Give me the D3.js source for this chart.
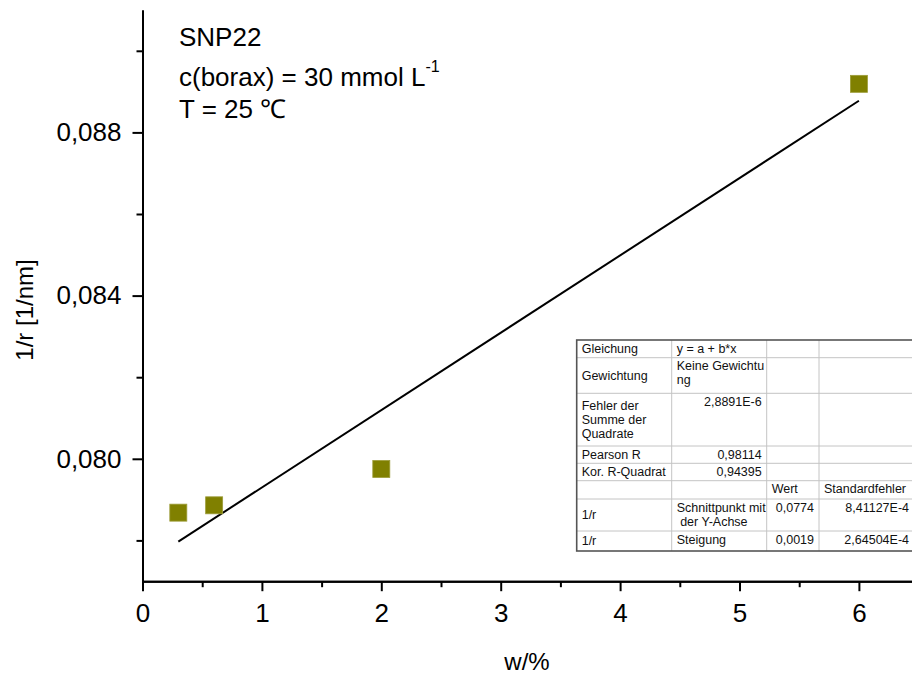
<!DOCTYPE html>
<html>
<head>
<meta charset="utf-8">
<script src="https://cdn.jsdelivr.net/npm/d3@7"></script>
<style>
  body { margin: 0; background: #fff; }
  svg { display: block; font-family: "Liberation Sans", Arial, sans-serif; }
  .axis path, .axis line { stroke: #000; stroke-width: 2; }
  .axis text { fill: #000; font-size: 26px; font-family: "Liberation Sans", Arial, sans-serif; }
</style>
</head>
<body>
<svg id="chart" width="912" height="678"></svg>
<script>
// measured points
const wPercent = [0.3, 0.6, 2, 6];
const invRadius = [0.07868, 0.07886, 0.07975, 0.08919];

const xMajorTicks = [0, 1, 2, 3, 4, 5, 6];
const xMinorTicks = [0.5, 1.5, 2.5, 3.5, 4.5, 5.5];
const yMajorTicks = [0.080, 0.084, 0.088];
const yMinorTicks = [0.078, 0.082, 0.086, 0.090];

const xTitle = 'w/%';
const yTitle = '1/r [1/nm]';
const sampleName = 'SNP22';
const boraxText = ['c(borax) = 30 mmol L', '-1'];
const tempText = 'T = 25 \u2103';

// Origin fit report (text only)
const fitTable = [
  ['Gleichung', 'y = a + b*x', '', ''],
  ['Gewichtung', 'Keine Gewichtu\nng', '', ''],
  ['Fehler der\nSumme der\nQuadrate', '2,8891E-6', '', ''],
  ['Pearson R', '0,98114', '', ''],
  ['Kor. R-Quadrat', '0,94395', '', ''],
  ['', '', 'Wert', 'Standardfehler'],
  ['1/r', 'Schnittpunkt mit\n der Y-Achse', '0,0774', '8,41127E-4'],
  ['1/r', 'Steigung', '0,0019', '2,64504E-4']
];

const svg = d3.select('#chart');

const plot = { left: 142.5, top: 10, bottom: 581.2, unit: 119.4 };

const x = d3.scaleLinear()
  .domain([0, 6.5])
  .range([plot.left, plot.left + 6.5 * plot.unit]);

const y = d3.scaleLinear()
  .domain([0.077, 0.091])
  .range([plot.bottom, plot.top]);

const commaFmt = v => d3.format('.3f')(v).replace('.', ',');

// --- axes
svg.append('g')
  .attr('class', 'axis')
  .attr('transform', `translate(0,${plot.bottom})`)
  .call(d3.axisBottom(x).tickValues(xMinorTicks).tickSize(6).tickSizeOuter(0).tickFormat(''));

svg.append('g')
  .attr('class', 'axis')
  .attr('transform', `translate(0,${plot.bottom})`)
  .call(d3.axisBottom(x).tickValues(xMajorTicks).tickSize(10).tickSizeOuter(0).tickPadding(12).tickFormat(d3.format('d')));

svg.append('g')
  .attr('class', 'axis')
  .attr('transform', `translate(${plot.left},0)`)
  .call(d3.axisLeft(y).tickValues(yMinorTicks).tickSize(6).tickSizeOuter(0).tickFormat(''));

svg.append('g')
  .attr('class', 'axis')
  .attr('transform', `translate(${plot.left},0)`)
  .call(d3.axisLeft(y).tickValues(yMajorTicks).tickSize(10).tickSizeOuter(0).tickPadding(11).tickFormat(commaFmt));

svg.append('text')
  .attr('x', 527)
  .attr('y', 670)
  .attr('text-anchor', 'middle')
  .style('font-size', '24px')
  .text(xTitle);

svg.append('text')
  .attr('transform', 'translate(33,310) rotate(-90)')
  .attr('text-anchor', 'middle')
  .style('font-size', '24px')
  .text(yTitle);

// --- linear fit (least squares on the points)
const mx = d3.mean(wPercent);
const my = d3.mean(invRadius);
const sxy = d3.sum(wPercent, (v, i) => (v - mx) * (invRadius[i] - my));
const sxx = d3.sum(wPercent, v => (v - mx) * (v - mx));
const slope = sxy / sxx;
const intercept = my - slope * mx;
const fitX = d3.extent(wPercent);

svg.append('path')
  .datum(fitX)
  .attr('fill', 'none')
  .attr('stroke', '#000')
  .attr('stroke-width', 2)
  .attr('d', d3.line().x(d => x(d)).y(d => y(intercept + slope * d)));

// --- squares
const size = 17;
svg.selectAll('.pt')
  .data(wPercent.map((w, i) => ({ w, r: invRadius[i] })))
  .enter()
  .append('rect')
  .attr('class', 'pt')
  .attr('x', d => x(d.w) - size / 2)
  .attr('y', d => y(d.r) - size / 2)
  .attr('width', size)
  .attr('height', size)
  .attr('fill', '#808000')
  .attr('stroke', '#9c9c38')
  .attr('stroke-width', 0.8);

// --- annotation
const note = svg.append('g').style('font-size', '26px');
note.append('text').attr('x', 179).attr('y', 46).text(sampleName);
const borax = note.append('text').attr('x', 179).attr('y', 86);
borax.append('tspan').text(boraxText[0]);
borax.append('tspan').attr('dy', -14).style('font-size', '16px').text(boraxText[1]);
note.append('text').attr('x', 179).attr('y', 118).text(tempText);

// --- fit table
const colEdges = [576.7, 671.7, 766.7, 819, 914];
const rowEdges = [340, 357.7, 393.3, 446, 463.3, 480.7, 499, 531, 551];
const lineH = 14;
const isNumber = s => /^[\d,E\-]+$/.test(s);

const table = svg.append('g')
  .style('font-size', '12.5px');

table.selectAll('.vline')
  .data(colEdges.slice(1, -1))
  .enter()
  .append('line')
  .attr('x1', d => d).attr('x2', d => d)
  .attr('y1', rowEdges[0]).attr('y2', rowEdges[rowEdges.length - 1])
  .attr('stroke', '#c4c4c4');

table.selectAll('.hline')
  .data(rowEdges.slice(1, -1))
  .enter()
  .append('line')
  .attr('x1', colEdges[0]).attr('x2', colEdges[colEdges.length - 1])
  .attr('y1', d => d).attr('y2', d => d)
  .attr('stroke', '#c4c4c4');

table.append('rect')
  .attr('x', colEdges[0])
  .attr('y', rowEdges[0])
  .attr('width', colEdges[colEdges.length - 1] - colEdges[0])
  .attr('height', rowEdges[rowEdges.length - 1] - rowEdges[0])
  .attr('fill', 'none')
  .attr('stroke', '#555')
  .attr('stroke-width', 1.6);

fitTable.forEach((row, ri) => {
  const top = rowEdges[ri];
  const h = rowEdges[ri + 1] - top;
  row.forEach((cell, ci) => {
    if (!cell) return;
    const lines = cell.split('\n');
    const right = isNumber(cell);
    const baseY = ci === 0
      ? top + (h - lines.length * lineH) / 2 + 11
      : top + 12.5;
    const t = table.append('text')
      .attr('x', right ? colEdges[ci + 1] - 5 : colEdges[ci] + 5)
      .attr('y', baseY)
      .attr('text-anchor', right ? 'end' : 'start')
      .attr('fill', '#111')
      .attr('xml:space', 'preserve');
    lines.forEach((ln, li) => {
      t.append('tspan')
        .attr('x', right ? colEdges[ci + 1] - 5 : colEdges[ci] + 5)
        .attr('y', baseY + li * lineH)
        .text(ln);
    });
  });
});
</script>
</body>
</html>
